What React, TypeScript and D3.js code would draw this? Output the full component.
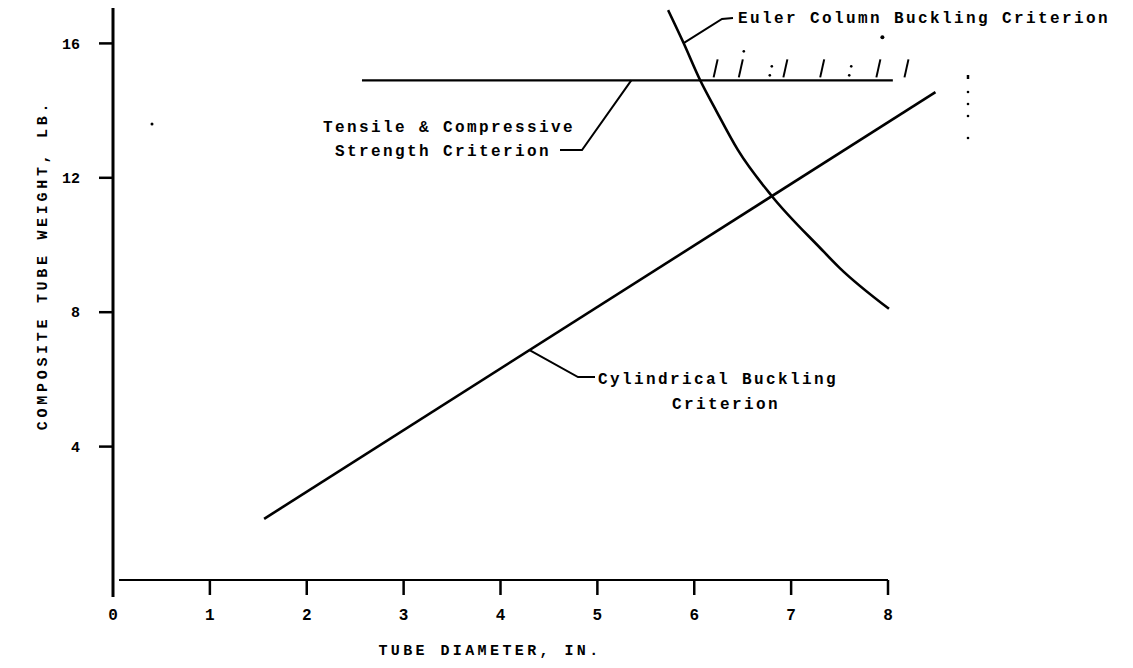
import React from "react";
import * as d3 from "d3";

const xTicks = [0, 1, 2, 3, 4, 5, 6, 7, 8];
const yTicks = [4, 8, 12, 16];

// Tensile & Compressive Strength Criterion (horizontal)
const strengthX = [2.57, 8.05];
const strengthY = [14.9, 14.9];

// Cylindrical Buckling Criterion (straight line)
const cylX = [1.56, 8.49];
const cylY = [1.85, 14.55];

// Euler Column Buckling Criterion (curve)
const eulerX = [5.73, 5.89, 6.06, 6.23, 6.45, 6.8, 7.3, 7.5, 8.01];
const eulerY = [16.99, 16.01, 14.91, 13.98, 12.83, 11.46, 9.91, 9.32, 8.1];

// hatch marks above the strength line (feasible side)
const hatchX = [6.2, 6.46, 6.92, 7.3, 7.88, 8.17];
const colonX = [6.78, 7.6];

const W = 1133;
const H = 668;
const FONT = "'Liberation Mono', 'DejaVu Sans Mono', monospace";

export default function App() {
  const x = d3.scaleLinear().domain([0, 8]).range([113, 888]);
  const y = d3.scaleLinear().domain([0, 16]).range([581, 43.4]);

  const line = d3
    .line<[number, number]>()
    .x((d) => x(d[0]))
    .y((d) => y(d[1]));
  const curve = d3
    .line<[number, number]>()
    .x((d) => x(d[0]))
    .y((d) => y(d[1]))
    .curve(d3.curveMonotoneX);

  const strength = strengthX.map((v, i) => [v, strengthY[i]] as [number, number]);
  const cyl = cylX.map((v, i) => [v, cylY[i]] as [number, number]);
  const euler = eulerX.map((v, i) => [v, eulerY[i]] as [number, number]);

  const textStyle: React.CSSProperties = {
    fontFamily: FONT,
    fontWeight: "bold",
    fontSize: 16,
    letterSpacing: 2.4,
  };

  const cylAt = (v: number) => cylY[0] + ((cylY[1] - cylY[0]) / (cylX[1] - cylX[0])) * (v - cylX[0]);
  const sAnchor: [number, number] = [x(5.35), y(14.9)];
  const cAnchor: [number, number] = [x(4.3), y(cylAt(4.3))];
  const eAnchor: [number, number] = [x(5.89), y(16.01)];

  return (
    <svg
      width={W}
      height={H}
      style={{ position: "absolute", left: 0, top: 0, background: "#fff" }}
    >
      {/* Y axis */}
      <line x1={x(0)} y1={8} x2={x(0)} y2={597} stroke="#000" strokeWidth={3} />
      {yTicks.map((t) => (
        <g key={"yt" + t}>
          <line x1={x(0) - 14} x2={x(0)} y1={y(t)} y2={y(t)} stroke="#000" strokeWidth={2.5} />
          <text
            x={x(0) - 33}
            y={y(t)}
            dy="0.35em"
            textAnchor="end"
            style={{ fontFamily: FONT, fontWeight: "bold", fontSize: 15 }}
          >
            {t}
          </text>
        </g>
      ))}
      {/* X axis */}
      <line x1={x(0) + 6} y1={y(0) - 1} x2={x(8)} y2={y(0) - 1} stroke="#000" strokeWidth={2} />
      {xTicks.map((t) => (
        <g key={"xt" + t}>
          {t > 0 && (
            <line x1={x(t)} x2={x(t)} y1={y(0) - 1} y2={y(0) + 14} stroke="#000" strokeWidth={2.5} />
          )}
          <text
            x={x(t)}
            y={614}
            dy="0.35em"
            textAnchor="middle"
            style={{ fontFamily: FONT, fontWeight: "bold", fontSize: 16 }}
          >
            {t}
          </text>
        </g>
      ))}
      <text
        x={490}
        y={650}
        dy="0.35em"
        textAnchor="middle"
        style={{ ...textStyle, fontSize: 15, letterSpacing: 3.4 }}
      >
        TUBE DIAMETER, IN.
      </text>
      <text
        transform={`translate(42, 265) rotate(-90)`}
        textAnchor="middle"
        dy="0.35em"
        style={{ ...textStyle, fontSize: 15, letterSpacing: 3.7 }}
      >
        COMPOSITE TUBE WEIGHT, LB.
      </text>

      {/* criteria */}
      <path d={line(strength) || ""} fill="none" stroke="#000" strokeWidth={2.4} />
      <path d={line(cyl) || ""} fill="none" stroke="#000" strokeWidth={2.6} />
      <path d={curve(euler) || ""} fill="none" stroke="#000" strokeWidth={2.6} />

      {/* hatch marks */}
      {hatchX.map((h, i) => (
        <line
          key={"h" + i}
          x1={x(h)}
          y1={y(14.9) - 3}
          x2={x(h) + 4}
          y2={y(14.9) - 21}
          stroke="#000"
          strokeWidth={2}
        />
      ))}
      {colonX.map((c, i) => (
        <g key={"c" + i}>
          <circle cx={x(c)} cy={y(14.9) - 5} r={1.3} fill="#000" />
          <circle cx={x(c) + 2} cy={y(14.9) - 14} r={1.3} fill="#000" />
        </g>
      ))}
      <circle cx={x(6.46) + 5} cy={y(14.9) - 29} r={1.3} fill="#000" />
      <circle cx={x(7.88) + 6} cy={y(14.9) - 43} r={2} fill="#000" />
      {/* dotted marks at right */}
      <line x1={968} x2={968} y1={75} y2={79} stroke="#000" strokeWidth={2.5} />
      {[92, 104, 116, 138].map((d) => (
        <circle key={"d" + d} cx={968} cy={d} r={1.3} fill="#000" />
      ))}
      <circle cx={152} cy={124} r={1.5} fill="#000" />

      {/* annotation: strength */}
      <polyline
        points={`${sAnchor[0]},${sAnchor[1]} ${582},${150} ${560},${150}`}
        fill="none"
        stroke="#000"
        strokeWidth={2}
      />
      <text x={323} y={126} dy="0.35em" style={textStyle}>
        Tensile &amp; Compressive
      </text>
      <text x={335} y={150} dy="0.35em" style={textStyle}>
        Strength Criterion
      </text>

      {/* annotation: cylindrical */}
      <polyline
        points={`${cAnchor[0]},${cAnchor[1]} ${578},${377} ${595},${377}`}
        fill="none"
        stroke="#000"
        strokeWidth={2}
      />
      <text x={598} y={378} dy="0.35em" style={textStyle}>
        Cylindrical Buckling
      </text>
      <text x={672} y={403} dy="0.35em" style={textStyle}>
        Criterion
      </text>

      {/* annotation: euler */}
      <polyline
        points={`${eAnchor[0]},${eAnchor[1]} ${722},${19} ${733},${18}`}
        fill="none"
        stroke="#000"
        strokeWidth={2}
      />
      <text x={738} y={17} dy="0.35em" style={textStyle}>
        Euler Column Buckling Criterion
      </text>
    </svg>
  );
}
